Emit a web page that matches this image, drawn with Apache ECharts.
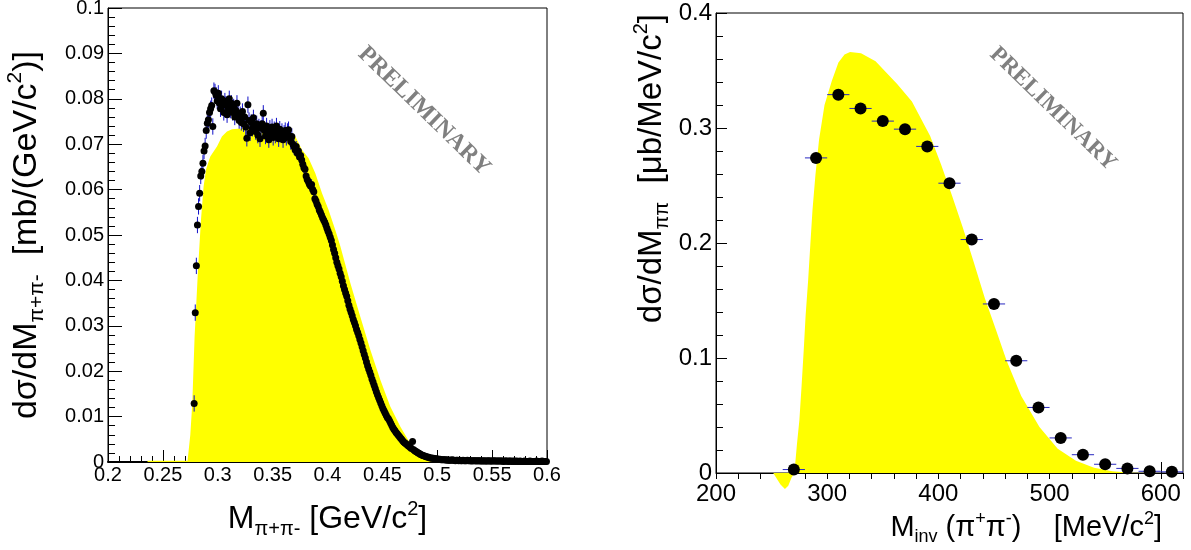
<!DOCTYPE html>
<html>
<head>
<meta charset="utf-8">
<title>pi+ pi- invariant mass</title>
<script src="https://cdn.jsdelivr.net/npm/echarts@6.0.0/dist/echarts.min.js"></script>
<style>
html, body { margin: 0; padding: 0; background: #fff; }
#chart { width: 1191px; height: 550px; }
</style>
</head>
<body>
<div id="chart"></div>
<script>
// ---- left panel: measured spectrum, 1 MeV bins starting at 0.2785 GeV
var binStart = 0.2785;
var binWidth = 0.001;
var sigmaLeft = [
  // 0.2785
  0.0129, 0.0329, 0.0432, 0.0522, 0.0563, 0.0592, 0.0630, 0.0640, 0.0658, 0.0685,
  // 0.2885
  0.0696, 0.0730, 0.0746, 0.0754, 0.0770, 0.0778, 0.0785, 0.0739, 0.0818, 0.0815,
  // 0.2985
  0.0808, 0.0795, 0.0812, 0.0790, 0.0778, 0.0800, 0.0785, 0.0770, 0.0795, 0.0788,
  // 0.3085
  0.0765, 0.0780, 0.0800, 0.0775, 0.0790, 0.0770, 0.0782, 0.0760, 0.0775, 0.0790,
  // 0.3185
  0.0768, 0.0752, 0.0765, 0.0748, 0.0772, 0.0745, 0.0760, 0.0738, 0.0713, 0.0787,
  // 0.3285
  0.0752, 0.0725, 0.0748, 0.0735, 0.0758, 0.0740, 0.0728, 0.0745, 0.0720, 0.0738,
  // 0.3385
  0.0712, 0.0735, 0.0745, 0.0768, 0.0730, 0.0718, 0.0740, 0.0725, 0.0710, 0.0735,
  // 0.3485
  0.0722, 0.0738, 0.0715, 0.0732, 0.0720, 0.0740, 0.0725, 0.0712, 0.0733, 0.0722,
  // 0.3585
  0.0728, 0.0710, 0.0724, 0.0730, 0.0715, 0.0728, 0.0732, 0.0718, 0.0706, 0.0717,
  // 0.3685
  0.0700, 0.0695, 0.0688, 0.0695, 0.0680, 0.0685, 0.0672, 0.0675, 0.0665, 0.0656,
  // 0.3785
  0.0648, 0.0645, 0.0630, 0.0622, 0.0618, 0.0612, 0.0608, 0.0611, 0.0600, 0.0595,
  // 0.3885
  0.0580, 0.0575, 0.0568, 0.0563, 0.0555, 0.0550, 0.0544, 0.0538, 0.0533, 0.0528,
  // 0.3985
  0.0522, 0.0515, 0.0508, 0.0502, 0.0495, 0.0488, 0.0478, 0.0468, 0.0460, 0.0450,
  // 0.4085
  0.0440, 0.0432, 0.0425, 0.0416, 0.0408, 0.0398, 0.0388, 0.0380, 0.0372, 0.0365,
  // 0.4185
  0.0355, 0.0345, 0.0337, 0.0330, 0.0322, 0.0314, 0.0307, 0.0300, 0.0292, 0.0285,
  // 0.4285
  0.0278, 0.0270, 0.0262, 0.0254, 0.0245, 0.0237, 0.0229, 0.0220, 0.0212, 0.0205,
  // 0.4385
  0.0198, 0.0191, 0.0183, 0.0176, 0.0169, 0.0162, 0.0155, 0.0148, 0.0142, 0.0136,
  // 0.4485
  0.0130, 0.0124, 0.0118, 0.0113, 0.0108, 0.0103, 0.0098, 0.0095, 0.0091, 0.0086,
  // 0.4585
  0.0081, 0.0076, 0.0072, 0.0069, 0.0065, 0.0062, 0.0059, 0.0056, 0.0053, 0.0050,
  // 0.4685
  0.0047, 0.0044, 0.0042, 0.0040, 0.0038, 0.0036, 0.0034, 0.0032, 0.0030, 0.0045,
  // 0.4785
  0.0027, 0.0025, 0.0023, 0.0022, 0.0020, 0.0019, 0.0017, 0.0016, 0.0015, 0.0014,
  // 0.4885
  0.0013, 0.0012, 0.0011, 0.0011, 0.0010, 0.0009, 0.0009, 0.0008, 0.0008, 0.0007,
  // 0.4985
  0.0007, 0.0007, 0.0006, 0.0006, 0.0006, 0.0005, 0.0005, 0.0005, 0.0005, 0.0005,
  // 0.5085
  0.0004, 0.0005, 0.0004, 0.0004, 0.0004, 0.0005, 0.0004, 0.0004, 0.0003, 0.0004,
  // 0.5185
  0.0004, 0.0003, 0.0004, 0.0003, 0.0003, 0.0004, 0.0003, 0.0003, 0.0003, 0.0004,
  // 0.5285
  0.0003, 0.0003, 0.0003, 0.0002, 0.0003, 0.0003, 0.0003, 0.0002, 0.0003, 0.0003,
  // 0.5385
  0.0002, 0.0003, 0.0002, 0.0002, 0.0003, 0.0002, 0.0002, 0.0002, 0.0003, 0.0002,
  // 0.5485
  0.0002, 0.0002, 0.0002, 0.0003, 0.0002, 0.0002, 0.0002, 0.0002, 0.0002, 0.0002,
  // 0.5585
  0.0002, 0.0002, 0.0001, 0.0002, 0.0002, 0.0002, 0.0001, 0.0002, 0.0002, 0.0001,
  // 0.5685
  0.0002, 0.0001, 0.0002, 0.0001, 0.0002, 0.0001, 0.0001, 0.0002, 0.0001, 0.0001,
  // 0.5785
  0.0001, 0.0002, 0.0001, 0.0001, 0.0001, 0.0001, 0.0002, 0.0001, 0.0001, 0.0001,
  // 0.5885
  0.0001, 0.0001, 0.0002, 0.0001, 0.0001, 0.0001, 0.0001, 0.0002, 0.0001, 0.0001,
  // 0.5985
  0.0001, 0.0001
];
// statistical error per mass range [from, to, error]
var errLeft = [
  [0.278, 0.370, 0.0018],
  [0.370, 0.400, 0.0012],
  [0.400, 0.470, 0.0007],
  [0.470, 0.600, 0.0003]
];
// simulation (yellow)
var simLeftX = [0.2360, 0.2725, 0.2750, 0.2768, 0.2789, 0.2820, 0.2847, 0.2871, 0.2893, 0.2932,
  0.2993, 0.3038, 0.3084, 0.3130, 0.3236, 0.3350, 0.3500, 0.3646, 0.3707, 0.3767,
  0.3828, 0.3889, 0.3950, 0.4010, 0.4071, 0.4117, 0.4208, 0.4299, 0.4390, 0.4481,
  0.4572, 0.4663, 0.4754, 0.4845, 0.4937, 0.4997];
var simLeftY = [0.0003, 0.0003, 0.0060, 0.0129, 0.0276, 0.0423, 0.0533, 0.0607, 0.0644, 0.0673,
  0.0695, 0.0717, 0.0728, 0.0733, 0.0735, 0.0734, 0.0731, 0.0728, 0.0717, 0.0688,
  0.0669, 0.0636, 0.0592, 0.0555, 0.0511, 0.0475, 0.0394, 0.0320, 0.0247, 0.0181,
  0.0122, 0.0078, 0.0041, 0.0015, 0.0003, 0];

// ---- right panel
var mInv = [270, 290, 310, 330, 350, 370, 390, 410, 430, 450, 470, 490, 510, 530, 550, 570, 590, 610];
var sigmaRight = [0.003, 0.274, 0.329, 0.317, 0.306, 0.299, 0.284, 0.252, 0.203, 0.147,
  0.0976, 0.057, 0.0305, 0.0159, 0.0076, 0.004, 0.0015, 0.001];
var halfBin = 10;
var simRightX = [251.5, 254, 258, 262, 265, 268, 270.5, 272.8, 275, 277, 278.9, 280.6, 282.9, 284.8,
  286.8, 289.4, 292.7, 297.6, 304.2, 310.1, 315.6, 320.6, 330.4, 343.5, 363.1, 376.2, 392.6,
  402.5, 412.3, 422.1, 431.9, 441.8, 451.6, 461.4, 474.5, 490.9, 507.3, 523.7, 540, 556.4,
  572.8, 590, 620];
var simRightY = [0, -0.004, -0.010, -0.0139, -0.011, -0.004, 0, 0.025, 0.046, 0.076, 0.107, 0.137,
  0.168, 0.198, 0.229, 0.259, 0.290, 0.320, 0.341, 0.357, 0.364, 0.366, 0.365, 0.358, 0.338,
  0.323, 0.293, 0.268, 0.241, 0.213, 0.183, 0.152, 0.125, 0.0976, 0.067, 0.040, 0.021, 0.0107,
  0.0046, 0.0015, 0.0003, 0, 0];

var FONT = 'Liberation Sans';

function errorFor(x) {
  for (var i = 0; i < errLeft.length; i++) {
    if (x >= errLeft[i][0] && x < errLeft[i][1]) return errLeft[i][2];
  }
  return errLeft[errLeft.length - 1][2];
}

var leftPoints = sigmaLeft.map(function (v, i) {
  var x = +(binStart + i * binWidth).toFixed(4);
  return [x, v, errorFor(x)];
});
var rightPoints = mInv.map(function (m, i) { return [m, sigmaRight[i]]; });

function pairs(xs, ys) {
  return xs.map(function (x, i) { return [x, ys[i]]; });
}

function titleRich(fs) {
  var small = Math.round(fs * 0.62);
  return {
    n: { fontSize: fs, lineHeight: Math.round(fs * 1.25), fontFamily: FONT, color: '#000' },
    sub: { fontSize: small, lineHeight: small, verticalAlign: 'bottom', fontFamily: FONT, color: '#000' },
    sup: { fontSize: small, lineHeight: small, verticalAlign: 'top', fontFamily: FONT, color: '#000' }
  };
}

function valueAxis(opt) {
  return Object.assign({
    type: 'value',
    scale: false,
    axisLine: { show: true, onZero: false, lineStyle: { color: '#000', width: 1 } },
    axisTick: { show: true, inside: true, length: 12, lineStyle: { color: '#000' } },
    minorTick: { show: true, splitNumber: 5, length: 6, lineStyle: { color: '#000' } },
    splitLine: { show: false },
    minorSplitLine: { show: false },
    nameMoveOverlap: false
  }, opt);
}

var chart = echarts.init(document.getElementById('chart'));

var option = {
  animation: false,
  backgroundColor: '#fff',
  grid: [
    { left: 108, top: 8, right: 644, bottom: 88, show: true, borderColor: '#000', borderWidth: 1,
      containLabel: false, outerBoundsMode: 'none' },
    { left: 716, top: 13, right: 8, bottom: 77, show: true, borderColor: '#000', borderWidth: 1,
      containLabel: false, outerBoundsMode: 'none' }
  ],
  xAxis: [
    valueAxis({
      gridIndex: 0, min: 0.2, max: 0.6, interval: 0.05,
      axisLine: { show: true, onZero: false, lineStyle: { color: '#000', width: 2 } },
      axisLabel: { fontFamily: FONT, fontSize: 20, color: '#000', margin: 3, showMinLabel: true, showMaxLabel: true },
      name: '{n|M}{sub|π+π-}{n| [GeV/c}{sup|2}{n|]}',
      nameLocation: 'middle', nameGap: 37,
      nameTextStyle: { rich: titleRich(32) }
    }),
    valueAxis({
      gridIndex: 1, min: 200, max: 620, interval: 100,
      axisTick: { show: true, inside: true, length: 11, lineStyle: { color: '#000' } },
      minorTick: { show: false },
      axisLabel: { fontFamily: FONT, fontSize: 24, color: '#000', margin: 9, showMinLabel: true, showMaxLabel: false }
    }),
    // minor ticks of the right panel every 20 MeV
    valueAxis({
      gridIndex: 1, min: 200, max: 620, interval: 20,
      axisLine: { show: false },
      axisTick: { show: true, inside: true, length: 6, lineStyle: { color: '#000' } },
      minorTick: { show: false },
      axisLabel: { show: false }
    })
  ],
  yAxis: [
    valueAxis({
      gridIndex: 0, min: 0, max: 0.1, interval: 0.01,
      axisTick: { show: true, inside: true, length: 14, lineStyle: { color: '#000' } },
      minorTick: { show: true, splitNumber: 5, length: 7, lineStyle: { color: '#000' } },
      axisLabel: { fontFamily: FONT, fontSize: 20, color: '#000', margin: 4, showMinLabel: true, showMaxLabel: true },
      name: '{n|dσ/dM}{sub|π+π-}{n|  [mb/(GeV/c}{sup|2}{n|)]}',
      nameLocation: 'middle', nameRotate: 90, nameGap: 60,
      nameTextStyle: { rich: titleRich(34) }
    }),
    valueAxis({
      gridIndex: 1, min: 0, max: 0.4, interval: 0.1,
      axisTick: { show: true, inside: true, length: 11, lineStyle: { color: '#000' } },
      minorTick: { show: true, splitNumber: 5, length: 7, lineStyle: { color: '#000' } },
      axisLabel: { fontFamily: FONT, fontSize: 24, color: '#000', margin: 4, showMinLabel: true, showMaxLabel: true }
    })
  ],
  graphic: [
    {
      type: 'text', x: 652, y: 14, rotation: Math.PI / 2, silent: true,
      style: {
        text: '{n|dσ/dM}{sub|ππ}{n|  [μb/MeV/c}{sup|2}{n|]}',
        rich: titleRich(33), align: 'right', verticalAlign: 'middle'
      }
    },
    {
      type: 'text', x: 1162, y: 528, silent: true,
      style: {
        text: '{n|M}{sub|inv}{n| (π}{sup|+}{n|π}{sup|-}{n|)    [MeV/c}{sup|2}{n|]}',
        rich: titleRich(29), align: 'right', verticalAlign: 'middle'
      }
    },
    {
      type: 'text', x: 424, y: 111, rotation: -0.77, silent: true,
      style: { text: 'PRELIMINARY', font: 'bold 24px "Liberation Serif"', fill: '#808080',
        align: 'center', verticalAlign: 'middle' }
    },
    {
      type: 'text', x: 1053, y: 109, rotation: -0.77, silent: true,
      style: { text: 'PRELIMINARY', font: 'bold 23px "Liberation Serif"', fill: '#808080',
        align: 'center', verticalAlign: 'middle' }
    }
  ],
  series: [
    {
      name: 'simulation (left)', type: 'line', xAxisIndex: 0, yAxisIndex: 0,
      data: pairs(simLeftX, simLeftY), symbol: 'none', smooth: false, silent: true,
      lineStyle: { width: 0 }, areaStyle: { color: '#ffff00', opacity: 1 }, z: 1
    },
    {
      name: 'errors (left)', type: 'custom', xAxisIndex: 0, yAxisIndex: 0,
      data: leftPoints, encode: { x: 0, y: 1 }, silent: true, z: 3,
      renderItem: function (params, api) {
        var x = api.value(0), y = api.value(1), e = api.value(2);
        var a = api.coord([x, y - e]), b = api.coord([x, y + e]);
        return { type: 'line', shape: { x1: a[0], y1: a[1], x2: b[0], y2: b[1] },
          style: { stroke: '#1010c8', lineWidth: 1 } };
      }
    },
    {
      name: 'data (left)', type: 'scatter', xAxisIndex: 0, yAxisIndex: 0,
      data: leftPoints.map(function (p) { return [p[0], p[1]]; }),
      symbol: 'circle', symbolSize: 7, itemStyle: { color: '#000', opacity: 1 }, silent: true, z: 4
    },
    {
      name: 'simulation (right)', type: 'line', xAxisIndex: 1, yAxisIndex: 1,
      data: pairs(simRightX, simRightY), symbol: 'none', smooth: false, silent: true, clip: false,
      lineStyle: { width: 0 }, areaStyle: { color: '#ffff00', opacity: 1 }, z: 1
    },
    {
      name: 'errors (right)', type: 'custom', xAxisIndex: 1, yAxisIndex: 1,
      data: rightPoints, encode: { x: 0, y: 1 }, silent: true, z: 3,
      renderItem: function (params, api) {
        var x = api.value(0), y = api.value(1);
        var a = api.coord([x - halfBin, y]), b = api.coord([x + halfBin, y]);
        return { type: 'line', shape: { x1: a[0], y1: a[1], x2: b[0], y2: b[1] },
          style: { stroke: '#2828c0', lineWidth: 1 } };
      }
    },
    {
      name: 'data (right)', type: 'scatter', xAxisIndex: 1, yAxisIndex: 1,
      data: rightPoints, symbol: 'circle', symbolSize: 12,
      itemStyle: { color: '#000', opacity: 1 }, silent: true, z: 4
    }
  ]
};

chart.setOption(option);
window.addEventListener('resize', function () { chart.resize(); });
</script>
</body>
</html>
